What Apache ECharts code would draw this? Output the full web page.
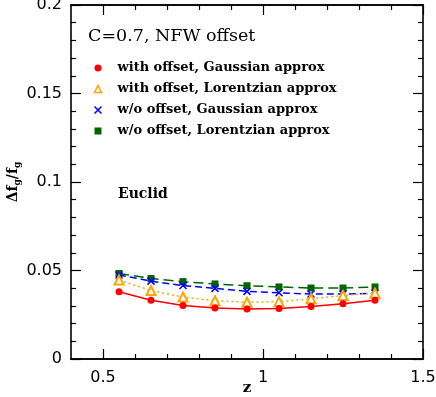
<!DOCTYPE html>
<html><head><meta charset="utf-8">
<script src="https://cdn.jsdelivr.net/npm/echarts@6/dist/echarts.min.js"></script>
<style>html,body{margin:0;padding:0;background:#fff}#c{width:436px;height:397px}</style>
</head><body><div id="c"></div>
<script>
const zValues = [0.55, 0.65, 0.75, 0.85, 0.95, 1.05, 1.15, 1.25, 1.35];
const withOffsetGauss = [0.0380, 0.0332, 0.0302, 0.0288, 0.0282, 0.0285, 0.0296, 0.0312, 0.0332];
const withOffsetLorentz = [0.0446, 0.0387, 0.0350, 0.0329, 0.0321, 0.0324, 0.0340, 0.0359, 0.0372];
const noOffsetGauss = [0.0475, 0.0440, 0.0415, 0.0399, 0.0382, 0.0374, 0.0367, 0.0367, 0.0371];
const noOffsetLorentz = [0.0483, 0.0455, 0.0437, 0.0424, 0.0414, 0.0407, 0.0401, 0.0401, 0.0407];
const seriesNames = ['with offset, Gaussian approx', 'with offset, Lorentzian approx', 'w/o offset, Gaussian approx', 'w/o offset, Lorentzian approx'];
const xMajorTicks = [0.5, 1, 1.5];
const xMinorTicks = [0.6, 0.7, 0.8, 0.9, 1.1, 1.2, 1.3, 1.4];
const yTickLabels = [0, 0.05, 0.1, 0.15, 0.2];

const pairs = (ys) => zValues.map((z, i) => [z, ys[i]]);
const crossPath = 'path://M0,0L10,10M10,0L0,10';
const serif = 'DejaVu Serif';
const sans = 'DejaVu Sans';

function xAx(pos, ticks, len, labels) {
  return {
    type: 'value', position: pos, min: 0.4, max: 1.5, interval: 0.1,
    axisLine: { show: true, onZero: false, lineStyle: { color: '#000', width: 1.6 } },
    axisTick: { show: true, inside: true, length: len, customValues: ticks, lineStyle: { color: '#000', width: 1.2 } },
    axisLabel: labels ? { show: true, customValues: xMajorTicks, formatter: v => String(v), color: '#000', fontFamily: sans, fontSize: 16, margin: 11 } : { show: false },
    splitLine: { show: false }
  };
}
function yAx(pos, labels) {
  return {
    type: 'value', position: pos, min: 0, max: 0.2, interval: 0.05,
    axisLine: { show: true, onZero: false, lineStyle: { color: '#000', width: 1.6 } },
    axisTick: { show: true, inside: true, length: 10, lineStyle: { color: '#000', width: 1.2 } },
    minorTick: { show: true, splitNumber: 5, length: 5, lineStyle: { color: '#000', width: 1.2 } },
    axisLabel: labels ? { show: true, customValues: yTickLabels, formatter: v => String(v), color: '#000', fontFamily: sans, fontSize: 16, margin: 9 } : { show: false },
    splitLine: { show: false }, minorSplitLine: { show: false }
  };
}

const xAxes = [xAx('bottom', xMajorTicks, 10, true), xAx('bottom', xMinorTicks, 5, false), xAx('top', xMajorTicks, 10, false), xAx('top', xMinorTicks, 5, false)];
xAxes[0].name = 'z';
xAxes[0].nameLocation = 'middle';
xAxes[0].nameGap = 22;
xAxes[0].nameMoveOverlap = false;
xAxes[0].nameTextStyle = { fontFamily: serif, fontWeight: 'bold', fontSize: 15, color: '#000' };
const yAxes = [yAx('left', true), yAx('right', false)];
yAxes[0].name = 'Δf{s|g}/f{s|g}';
yAxes[0].nameLocation = 'middle';
yAxes[0].nameGap = 49;
yAxes[0].nameMoveOverlap = false;
yAxes[0].nameTextStyle = { fontFamily: serif, fontWeight: 'bold', fontSize: 14, color: '#000',
  rich: { s: { fontFamily: serif, fontWeight: 'bold', fontSize: 9, color: '#000', verticalAlign: 'bottom', padding: [9, 0, 0, 0] } } };

const chart = echarts.init(document.getElementById('c'), null, { renderer: 'canvas' });
chart.setOption({
  animation: false,
  backgroundColor: '#fff',
  grid: { left: 71, right: 13, top: 5, bottom: 38, containLabel: false, outerBoundsMode: 'none' },
  xAxis: xAxes,
  yAxis: yAxes,
  legend: {
    orient: 'vertical', left: 87, top: 56, itemGap: 7, itemWidth: 7, itemHeight: 7,
    textStyle: { fontFamily: serif, fontWeight: 'bold', fontSize: 13, color: '#000', lineHeight: 14, padding: [0, 0, 0, 11] },
    data: [
      { name: seriesNames[0], icon: 'circle', itemStyle: { color: '#ff0000' } },
      { name: seriesNames[1], icon: 'triangle', itemStyle: { color: '#ffffff', borderColor: '#ffa500', borderWidth: 1.5 } },
      { name: seriesNames[2], icon: crossPath, itemStyle: { color: 'none', borderColor: '#0000ff', borderWidth: 1.5 } },
      { name: seriesNames[3], icon: 'rect', itemStyle: { color: '#006400' } }
    ]
  },
  graphic: [
    { type: 'text', left: 88, top: 27, style: { text: 'C=0.7, NFW offset', font: '17.5px "DejaVu Serif"', fill: '#000' } },
    { type: 'text', left: 118, top: 187, style: { text: 'Euclid', font: 'bold 14px "DejaVu Serif"', fill: '#000' } }
  ],
  series: [
    { name: seriesNames[0], type: 'line', data: pairs(withOffsetGauss), symbol: 'circle', symbolSize: 7,
      itemStyle: { color: '#ff0000' }, lineStyle: { color: '#ff0000', width: 1.5 }, z: 4 },
    { name: seriesNames[1], type: 'line', data: pairs(withOffsetLorentz), symbol: 'emptyTriangle', symbolSize: 9,
      itemStyle: { color: '#ffa500', borderColor: '#ffa500', borderWidth: 1.5 }, lineStyle: { color: '#ffa500', width: 1.5, type: [2, 3] }, z: 3 },
    { name: seriesNames[2], type: 'line', data: pairs(noOffsetGauss), symbol: crossPath, symbolSize: 7,
      itemStyle: { color: 'none', borderColor: '#0000ff', borderWidth: 1.5 }, lineStyle: { color: '#0000ff', width: 1.5, type: [7, 4] }, z: 2 },
    { name: seriesNames[3], type: 'line', data: pairs(noOffsetLorentz), symbol: 'rect', symbolSize: 7,
      itemStyle: { color: '#006400' }, lineStyle: { color: '#006400', width: 1.5, type: [10, 5] }, z: 1 }
  ]
});
</script></body></html>
